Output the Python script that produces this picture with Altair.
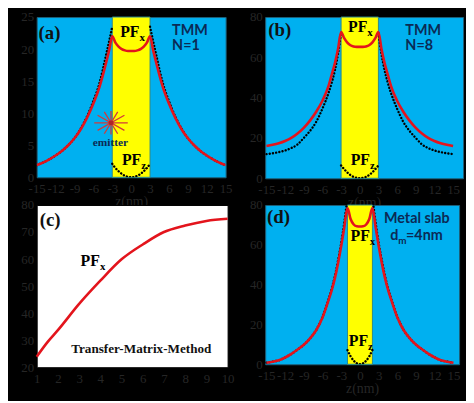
import altair as alt
import pandas as pd

BLUE = "#00B0F0"
YELLOW = "#FFFF00"
RED = "#E3141C"
NAVY = "#0B2A55"
LABEL = "#262626"
SERIF = "Liberation Serif"
SANS = "Lato"

# ---------------- panel (a) ----------------
a_red_z = [-15, -14, -13, -12, -11, -10, -9, -8, -7, -6, -5, -4.5, -4, -3.5, -3,
           -2.5, -2, -1.5, -1, -0.5, 0, 0.5, 1, 1.5, 2, 2.5,
           3, 3.5, 4, 4.5, 5, 6, 7, 8, 9, 10, 11, 12, 13, 14, 15]
a_red_v = [1.9, 2.3, 2.8, 3.4, 4.1, 5.0, 6.1, 7.5, 9.3, 11.5, 14.2, 15.9, 17.8, 19.8, 22.0,
           21.0, 20.4, 20.0, 19.8, 19.7, 19.7, 19.7, 19.8, 20.0, 20.4, 21.0,
           22.0, 19.8, 17.8, 15.9, 14.2, 11.5, 9.3, 7.5, 6.1, 5.0, 4.1, 3.4, 2.8, 2.3, 1.9]
a_dotL_z = [-15, -14, -13, -12, -11, -10, -9, -8, -7, -6, -5, -4.5, -4, -3.5, -3]
a_dotL_v = [1.9, 2.3, 2.8, 3.4, 4.1, 5.0, 6.1, 7.6, 9.5, 11.9, 14.8, 16.8, 19.0, 21.2, 23.5]
a_dotR_z = [3, 3.5, 4, 4.5, 5, 6, 7, 8, 9, 10, 11, 12, 13, 14, 15]
a_dotR_v = [23.5, 21.2, 19.0, 16.8, 14.8, 11.9, 9.5, 7.6, 6.1, 5.0, 4.1, 3.4, 2.8, 2.3, 1.9]
a_pfz_z = [-3, -2.5, -2, -1.5, -1, -0.5, 0, 0.5, 1, 1.5, 2, 2.5, 3]
a_pfz_v = [2.1, 1.45, 0.95, 0.55, 0.25, 0.06, 0, 0.06, 0.25, 0.55, 0.95, 1.45, 2.1]

# ---------------- panel (b) ----------------
b_red_z = a_red_z
b_red_v = [16.0, 16.6, 17.4, 18.5, 20.0, 22.2, 25.0, 28.6, 33.0, 38.5, 46.0, 51.5, 57.0, 64.0, 72.6,
           69.5, 67.3, 66.0, 65.4, 65.2, 65.2, 65.2, 65.4, 66.0, 67.3, 69.5,
           72.6, 64.0, 57.0, 51.5, 46.0, 38.5, 33.0, 28.6, 25.0, 22.2, 20.0, 18.5, 17.4, 16.6, 16.0]
b_dotL_z = a_dotL_z
b_dotL_v = [12.0, 12.4, 13.0, 13.8, 15.0, 16.8, 20.0, 23.5, 28.0, 34.5, 42.5, 47.5, 53.5, 61.5, 72.0]
b_dotR_z = a_dotR_z
b_dotR_v = [72.0, 61.5, 53.5, 47.5, 42.5, 34.5, 28.0, 23.5, 20.0, 16.8, 15.0, 13.8, 13.0, 12.4, 12.0]
b_pfz_z = a_pfz_z
b_pfz_v = [6.4, 4.5, 2.9, 1.6, 0.7, 0.2, 0, 0.2, 0.7, 1.6, 2.9, 4.5, 6.4]

# ---------------- panel (c) ----------------
c_x = [1, 1.5, 2, 3, 4, 5, 6, 7, 8, 9, 10]
c_v = [23.9, 29.2, 33.7, 43.4, 52.0, 59.9, 65.4, 70.0, 72.4, 74.1, 74.9]

# ---------------- panel (d) ----------------
d_red_z = [-15, -14, -13, -12, -11, -10, -9, -8, -7, -6, -5, -4.5, -4, -3.5, -3, -2.5, -2,
           -1.5, -1, -0.5, 0, 0.5, 1, 1.5,
           2, 2.5, 3, 3.5, 4, 4.5, 5, 6, 7, 8, 9, 10, 11, 12, 13, 14, 15]
d_red_v = [0.8, 1.3, 2.0, 3.4, 5.2, 7.4, 9.8, 13.0, 17.2, 23.5, 32.5, 37.5, 43.5, 51.0, 59.5, 69.0, 78.5,
           73.0, 70.2, 69.3, 69.2, 69.3, 70.2, 73.0,
           78.5, 69.0, 59.5, 51.0, 43.5, 37.5, 32.5, 23.5, 17.2, 13.0, 9.8, 7.4, 5.2, 3.4, 2.0, 1.3, 0.8]
d_dotL_z = [-15, -14, -13, -12, -11, -10, -9, -8, -7, -6, -5, -4.5, -4, -3.5, -3, -2.5, -2]
d_dotL_v = [0.8, 1.3, 2.0, 3.4, 5.2, 7.4, 9.8, 13.0, 17.3, 23.8, 33.0, 38.2, 44.5, 52.3, 61.0, 71.5, 84.0]
d_dotR_z = [2, 2.5, 3, 3.5, 4, 4.5, 5, 6, 7, 8, 9, 10, 11, 12, 13, 14, 15]
d_dotR_v = [84.0, 71.5, 61.0, 52.3, 44.5, 38.2, 33.0, 23.8, 17.3, 13.0, 9.8, 7.4, 5.2, 3.4, 2.0, 1.3, 0.8]
d_pfz_z = [-2, -1.5, -1, -0.5, 0, 0.5, 1, 1.5, 2]
d_pfz_v = [7.1, 4.0, 1.8, 0.45, 0, 0.45, 1.8, 4.0, 7.1]

z_ticks = [-15, -12, -9, -6, -3, 0, 3, 6, 9, 12, 15]


def dotted_df(lz, lv, pz, pv, rz, rv):
    rows = []
    for seg, zs, vs in (("L", lz, lv), ("P", pz, pv), ("R", rz, rv)):
        for z, v in zip(zs, vs):
            rows.append({"z": z, "v": v, "seg": seg})
    return pd.DataFrame(rows)


def encs(xdom, xvals, xtitle, ydom, yvals):
    x = alt.X("z:Q", scale=alt.Scale(domain=xdom, nice=False, zero=False),
              axis=alt.Axis(values=xvals, title=xtitle, labelExpr="'' + datum.value"))
    y = alt.Y("v:Q", scale=alt.Scale(domain=ydom, nice=False, zero=False),
              axis=alt.Axis(values=yvals, title="", labelExpr="'' + datum.value"))
    return x, y


def text_layer(x, y, rows, **kw):
    df = pd.DataFrame(rows, columns=["z", "v", "t"])
    return alt.Chart(df).mark_text(baseline="alphabetic", **kw).encode(x=x, y=y, text="t:N")


def pf_layers(x, y, zpos, vpos, sub):
    return [
        text_layer(x, y, [(zpos, vpos, "PF")], align="right", font=SERIF, fontSize=16,
                   fontWeight="bold", color="black"),
        text_layer(x, y, [(zpos, vpos, sub)], align="left", font=SERIF, fontSize=11,
                   fontWeight="bold", color="black", dy=4),
    ]


def slab_panel(xdom, ydom, yvals, w, h, band, red_z, red_v, dot_df, texts):
    x, y = encs(xdom, z_ticks, "z(nm)", ydom, yvals)
    band_df = pd.DataFrame({"z": [band[0]], "z2": [band[1]], "v": [ydom[0]], "v2": [ydom[1]]})
    band_l = alt.Chart(band_df).mark_rect(fill=YELLOW, stroke="#2E8A8A", strokeWidth=1).encode(
        x=x, x2="z2:Q", y=y, y2="v2:Q")
    dots = alt.Chart(dot_df).mark_line(color="black", strokeDash=[0.1, 3.2], strokeCap="round",
                                       strokeWidth=2.4, interpolate="monotone", clip=True).encode(
        x=x, y=y, detail="seg:N")
    red = alt.Chart(pd.DataFrame({"z": red_z, "v": red_v})).mark_line(
        color=RED, strokeWidth=2.6, interpolate="monotone", clip=True).encode(x=x, y=y)
    layers = [band_l, dots, red] + texts(x, y)
    return alt.layer(*layers).properties(
        width=w, height=h, view=alt.ViewBackground(fill=BLUE, stroke="#1d5f78", strokeWidth=1))


def texts_a(x, y):
    star = pd.DataFrame({"z": [-3.2], "v": [8.5]})
    return [
        text_layer(x, y, [(-14.7, 21.6, "(a)")], align="left", font=SERIF, fontSize=19,
                   fontWeight="bold", color="#111111"),
        *pf_layers(x, y, 1.33, 21.9, "x"),
        text_layer(x, y, [(6.5, 22.2, "TMM"), (6.5, 19.8, "N=1")], align="left", font=SANS,
                   fontSize=14.5, fontWeight="bold", color=NAVY),
        alt.Chart(star).mark_point(
            shape="M-1,0L1,0M0,-0.7L0,0.7M-0.8,-0.45L0.8,0.45M-0.8,0.45L0.8,-0.45M-0.4,-0.65L0.4,0.65M-0.4,0.65L0.4,-0.65",
            size=1150, filled=False, stroke="#D23A3A", strokeWidth=1.3, opacity=1).encode(x=x, y=y),
        alt.Chart(star).mark_point(shape="circle", size=24, filled=True, color="#B02525",
                                   opacity=1).encode(x=x, y=y),
        text_layer(x, y, [(-3.3, 4.9, "emitter")], align="center", font=SERIF, fontSize=11.5,
                   fontWeight="bold", color=NAVY),
        *pf_layers(x, y, 1.6, 1.9, "z"),
    ]


def texts_b(x, y):
    return [
        text_layer(x, y, [(-14.7, 70.8, "(b)")], align="left", font=SERIF, fontSize=19,
                   fontWeight="bold", color="#111111"),
        *pf_layers(x, y, 1.22, 72.8, "x"),
        text_layer(x, y, [(7.33, 71.3, "TMM"), (7.33, 63.5, "N=8")], align="left", font=SANS,
                   fontSize=14.5, fontWeight="bold", color=NAVY),
        *pf_layers(x, y, 1.65, 6.6, "z"),
    ]


def texts_d(x, y):
    return [
        text_layer(x, y, [(-14.9, 71.1, "(d)")], align="left", font=SERIF, fontSize=19,
                   fontWeight="bold", color="#111111"),
        *pf_layers(x, y, 1.58, 62.1, "x"),
        text_layer(x, y, [(9.12, 70.9, "Metal slab")], align="center", font=SANS,
                   fontSize=14.5, fontWeight="bold", color=NAVY),
        text_layer(x, y, [(6.15, 62.6, "d")], align="right", font=SANS,
                   fontSize=14.5, fontWeight="bold", color=NAVY),
        text_layer(x, y, [(6.15, 62.6, "m")], align="left", font=SANS, dy=4,
                   fontSize=10, fontWeight="bold", color=NAVY),
        text_layer(x, y, [(7.39, 62.6, "=4nm")], align="left", font=SANS,
                   fontSize=14.5, fontWeight="bold", color=NAVY),
        *pf_layers(x, y, 1.31, 9.3, "z"),
    ]


panel_a = slab_panel([-15, 15], [0, 25], [0, 5, 10, 15, 20, 25], 191, 162, (-3, 3),
                     a_red_z, a_red_v,
                     dotted_df(a_dotL_z, a_dotL_v, a_pfz_z, a_pfz_v, a_dotR_z, a_dotR_v), texts_a)
panel_b = slab_panel([-15.2, 16.6], [0, 80], [0, 20, 40, 60, 80], 200, 163, (-3, 3),
                     b_red_z, b_red_v,
                     dotted_df(b_dotL_z, b_dotL_v, b_pfz_z, b_pfz_v, b_dotR_z, b_dotR_v), texts_b)
panel_d = slab_panel([-15.2, 15.9], [0, 80], [0, 20, 40, 60, 80], 196, 161, (-2, 2),
                     d_red_z, d_red_v,
                     dotted_df(d_dotL_z, d_dotL_v, d_pfz_z, d_pfz_v, d_dotR_z, d_dotR_v), texts_d)

# panel (c)
cx, cy = encs([1, 10], list(range(1, 11)), "", [20, 80], [20, 30, 40, 50, 60, 70, 80])
c_line = alt.Chart(pd.DataFrame({"z": c_x, "v": c_v})).mark_line(
    color=RED, strokeWidth=2.6, interpolate="monotone").encode(x=cx, y=cy)
c_texts = [
    text_layer(cx, cy, [(1.14, 72.1, "(c)")], align="left", font=SERIF, fontSize=19,
               fontWeight="bold", color="#111111"),
    *pf_layers(cx, cy, 3.98, 57.4, "x"),
    text_layer(cx, cy, [(5.93, 25.1, "Transfer-Matrix-Method")], align="center", font=SERIF,
               fontSize=13.3, fontWeight="bold", color="#111111"),
]
panel_c = alt.layer(c_line, *c_texts).properties(
    width=193, height=164, view=alt.ViewBackground(fill="white", stroke="black", strokeWidth=1))

chart = alt.concat(panel_a, panel_b, panel_c, panel_d, columns=2,
                   spacing={"row": 27, "column": 38}, bounds="flush").properties(
    padding={"left": 12, "top": 0, "right": 2, "bottom": 2}
).configure(background="black").configure_axis(
    labelFont=SERIF, labelFontSize=13, labelColor=LABEL, ticks=False, domain=False, grid=False,
    labelPadding=5, labelOverlap=False, labelFlush=False, titleFont=SERIF, titleFontSize=14,
    titleColor=LABEL, titleFontWeight="normal", titlePadding=0
).configure_axisY(labelPadding=3)

chart.save("out.html", embed_options={"renderer": "svg", "actions": False})
